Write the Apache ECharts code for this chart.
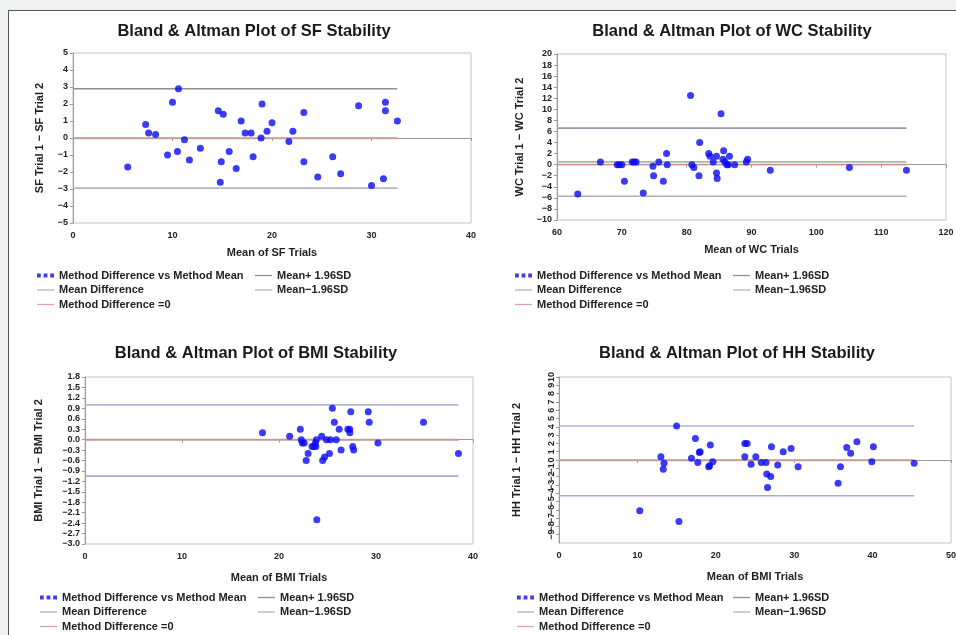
<!DOCTYPE html>
<html>
<head>
<meta charset="utf-8">
<title>Bland &amp; Altman Plots</title>
<script src="https://cdn.jsdelivr.net/npm/echarts@6/dist/echarts.min.js"></script>
<style>
  html, body { margin: 0; padding: 0; background: #eef0f2; overflow: hidden; }
  #frame { position: absolute; left: 8px; top: 10px; width: 960px; height: 640px; background: #fff;
           border-left: 1px solid #555; border-top: 1px solid #555; }
  #chart { position: absolute; left: 0; top: 0; width: 956px; height: 635px; }
</style>
</head>
<body>
<div id="frame"></div>
<div id="chart"></div>
<script>
// SF
var sfMean = [5.5, 7.3, 7.6, 8.3, 9.5, 10.0, 10.5, 10.6, 11.2, 11.7, 12.8, 14.6, 14.8, 14.9, 15.1, 15.7, 16.4, 16.9, 17.3, 17.9,
              18.1, 18.9, 19.0, 19.5, 20.0, 21.7, 22.1, 23.2, 23.2, 24.6, 26.1, 26.9, 28.7, 30.0, 31.2, 31.4, 31.4, 32.6];
var sfDiff = [-1.7, 0.8, 0.3, 0.2, -1.0, 2.1, -0.8, 2.9, -0.1, -1.3, -0.6, 1.6, -2.6, -1.4, 1.4, -0.8, -1.8, 1.0, 0.3, 0.3,
              -1.1, 0.0, 2.0, 0.4, 0.9, -0.2, 0.4, 1.5, -1.4, -2.3, -1.1, -2.1, 1.9, -2.8, -2.4, 2.1, 1.6, 1.0];
var sfLimits = [-0.02, 2.9, -2.95];   // mean difference, mean+1.96SD, mean-1.96SD

// WC
var wcMean = [63.2, 66.7, 69.3, 69.6, 70.0, 70.4, 71.6, 71.9, 72.2, 73.3, 74.8, 74.9, 75.7, 76.4, 76.9, 77.0, 80.6, 80.8, 81.1, 81.9,
              82.0, 83.4, 83.6, 84.1, 84.6, 84.6, 84.7, 85.3, 85.6, 85.7, 85.9, 86.2, 86.4, 86.6, 87.4, 89.2, 89.4, 92.9, 105.1, 113.9];
var wcDiff = [-5.3, 0.5, 0, 0, 0, -3.0, 0.5, 0.5, 0.5, -5.1, -0.3, -2.0, 0.5, -3.0, 2.0, 0, 12.5, 0, -0.5, -2.0,
              4.0, 2.0, 1.5, 0.5, 1.5, -1.5, -2.5, 9.2, 1.0, 2.5, 0.5, 0, 0, 1.5, 0, 0.5, 1.0, -1.0, -0.5, -1.0];
var wcLimits = [0.5, 6.6, -5.7];

// BMI
var bmiMean = [18.3, 21.1, 22.2, 22.3, 22.4, 22.6, 22.8, 23.0, 23.4, 23.6, 23.75, 23.85, 23.9, 23.8, 24.4, 24.5, 24.7, 24.9,
               25.2, 25.3, 25.5, 25.7, 25.9, 26.2, 26.4, 27.1, 27.3, 27.4, 27.3, 27.6, 27.7, 29.2, 29.3, 30.2, 34.9, 38.5];
var bmiDiff = [0.2, 0.1, 0.3, 0.0, -0.1, -0.1, -0.6, -0.4, -0.2, -0.2, -0.1, 0.0, -2.3, -0.2, 0.1, -0.6, -0.5, 0.0,
               -0.4, 0.0, 0.9, 0.5, 0.0, 0.3, -0.3, 0.3, 0.2, 0.8, 0.3, -0.2, -0.3, 0.8, 0.5, -0.1, 0.5, -0.4];
var bmiLimits = [-0.01, 1.0, -1.05];

// HH
var hhMean = [10.3, 13.0, 13.4, 13.3, 15.0, 15.3, 16.9, 17.4, 17.7, 17.9, 18.0, 19.1, 19.3, 19.2, 19.6, 23.7, 23.7, 24.0, 24.5,
              25.1, 25.8, 26.4, 26.5, 26.6, 27.0, 27.1, 27.9, 28.6, 29.6, 30.5, 35.6, 35.9, 36.7, 37.2, 38.0, 39.9, 40.1, 45.3];
var hhDiff = [-6.1, 0.4, -0.4, -1.1, 4.1, -7.4, 0.2, 2.6, -0.3, 0.9, 1.0, -0.8, 1.8, -0.7, -0.2, 0.4, 2.0, 2.0, -0.5,
              0.4, -0.3, -0.3, -1.7, -3.3, -2.0, 1.6, -0.6, 1.0, 1.4, -0.8, -2.8, -0.8, 1.5, 0.8, 2.2, -0.2, 1.6, -0.4];
var hhLimits = [-0.05, 4.1, -4.3];

var NAME_PTS = 'Method Difference vs Method Mean';
var NAME_MD = 'Mean Difference';
var NAME_ZERO = 'Method Difference =0';
var NAME_UP = 'Mean+ 1.96SD';
var NAME_LO = 'Mean\u22121.96SD';

var panels = [
  { title: 'Bland & Altman Plot of SF Stability', xName: 'Mean of SF Trials', yName: 'SF Trial 1 \u2212 SF Trial 2',
    mean: sfMean, diff: sfDiff, lim: sfLimits, x: [0, 40, 10], y: [-5, 5, 1], dec: 0,
    grid: { left: 73, top: 53, width: 398, height: 170 }, titleX: 249, titleY: 18, xGap: 24, yGap: 28,
    leg1: [37, 269], leg2: [255, 269], upColor: '#8e8e9c', loColor: '#b4b4c6' },
  { title: 'Bland & Altman Plot of WC Stability', xName: 'Mean of WC Trials', yName: 'WC Trial 1 \u2212 WC Trial 2',
    mean: wcMean, diff: wcDiff, lim: wcLimits, x: [60, 120, 10], y: [-10, 20, 2], dec: 0,
    grid: { left: 557, top: 54, width: 389, height: 166 }, titleX: 727, titleY: 18, xGap: 24, yGap: 32,
    leg1: [515, 269], leg2: [733, 269], upColor: '#9898a8', loColor: '#b0b0bc' },
  { title: 'Bland & Altman Plot of BMI Stability', xName: 'Mean of BMI Trials', yName: 'BMI Trial 1 \u2212 BMI Trial 2',
    mean: bmiMean, diff: bmiDiff, lim: bmiLimits, x: [0, 40, 10], y: [-3, 1.8, 0.3], dec: 1,
    grid: { left: 85, top: 377, width: 388, height: 167 }, titleX: 251, titleY: 340, xGap: 28, yGap: 41,
    leg1: [40, 591], leg2: [258, 591], upColor: '#b4b4d8', loColor: '#a8a8d4' },
  { title: 'Bland & Altman Plot of HH Stability', xName: 'Mean of BMI Trials', yName: 'HH Trial 1 \u2212 HH Trial 2',
    mean: hhMean, diff: hhDiff, lim: hhLimits, x: [0, 50, 10], y: [-10, 10, 1], dec: 0, rotY: true,
    grid: { left: 559, top: 377, width: 392, height: 166 }, titleX: 732, titleY: 340, xGap: 28, yGap: 37,
    leg1: [517, 591], leg2: [733, 591], upColor: '#b0b0dc', loColor: '#a8a8d8' }
];

var FONT = 'Liberation Sans, Arial, sans-serif';
var labelFont = { color: '#222', fontSize: 9, fontWeight: 'bold', fontFamily: FONT };
var nameFont = { color: '#222', fontSize: 11, fontWeight: 'bold', fontFamily: FONT };
var legText = { color: '#222', fontSize: 11, fontWeight: 'bold', lineHeight: 13, fontFamily: FONT };
var dotsIcon = 'path://M0,0h4v4h-4z M7,0h4v4h-4z M14,0h4v4h-4z';
var ROW = 14.5;

var option = { animation: false, title: [], grid: [], xAxis: [], yAxis: [], legend: [], series: [] };

function makeLegend(left, top, names, icon, h) {
  return {
    left: left, top: top, orient: 'vertical', itemGap: ROW - 13, itemWidth: 17, itemHeight: h,
    padding: 0, selectedMode: false, textStyle: legText, icon: icon,
    data: names
  };
}

panels.forEach(function (p, i) {
  var xMax = Math.max.apply(null, p.mean);
  option.grid.push(Object.assign({ show: true, borderColor: '#c4c4c4', borderWidth: 1, backgroundColor: 'transparent', outerBoundsMode: 'none' }, p.grid));

  option.title.push({
    text: p.title, left: p.titleX, top: p.titleY, textAlign: 'center',
    textStyle: { fontSize: 16.5, fontWeight: 'bold', color: '#1a1a1a', fontFamily: FONT }
  });

  option.xAxis.push({
    gridIndex: i, type: 'value', min: p.x[0], max: p.x[1], interval: p.x[2],
    name: p.xName, nameLocation: 'middle', nameGap: p.xGap, nameTextStyle: nameFont,
    splitLine: { show: false },
    axisLine: { lineStyle: { color: '#9a9a9a' } },
    axisTick: { length: 3, lineStyle: { color: '#9a9a9a' } },
    axisLabel: Object.assign({ margin: 8 }, labelFont)
  });

  var yLabel = Object.assign({
    margin: 5,
    formatter: function (v) { return v.toFixed(p.dec).replace('-', '\u2212'); }
  }, labelFont);
  if (p.rotY) {
    yLabel.rotate = 90;
    yLabel.interval = 0;
    yLabel.fontSize = 9;
    yLabel.margin = 3;
  }
  option.yAxis.push({
    gridIndex: i, type: 'value', min: p.y[0], max: p.y[1], interval: p.y[2],
    name: p.yName, nameLocation: 'middle', nameGap: p.yGap, nameTextStyle: nameFont,
    splitLine: { show: false },
    axisLine: { show: true, lineStyle: { color: '#9a9a9a' } },
    axisTick: { show: true, length: 3, lineStyle: { color: '#9a9a9a' } },
    axisLabel: yLabel
  });

  var refLine = function (name, v, color, z) {
    return {
      name: name, type: 'line', xAxisIndex: i, yAxisIndex: i, symbol: 'none', silent: true, z: z,
      lineStyle: { color: color, width: 1.6 }, itemStyle: { color: color },
      data: [[p.x[0], v], [xMax, v]]
    };
  };
  option.series.push(refLine(NAME_MD, p.lim[0], '#a6bca6', 2));
  option.series.push(refLine(NAME_ZERO, 0, 'rgba(214,140,140,0.8)', 3));
  option.series.push(refLine(NAME_UP, p.lim[1], p.upColor, 2));
  option.series.push(refLine(NAME_LO, p.lim[2], p.loColor, 2));

  option.series.push({
    name: NAME_PTS, type: 'scatter', xAxisIndex: i, yAxisIndex: i, z: 5,
    symbolSize: 7, itemStyle: { color: '#0a0af2' },
    data: p.mean.map(function (m, k) { return [m, p.diff[k]]; })
  });

  // legend: dotted marker row, then two line rows, plus a second column
  option.legend.push(makeLegend(p.leg1[0], p.leg1[1], [NAME_PTS], dotsIcon, 4));
  option.legend.push(makeLegend(p.leg1[0], p.leg1[1] + ROW, [NAME_MD, NAME_ZERO], 'rect', 1.3));
  option.legend.push(makeLegend(p.leg2[0], p.leg2[1], [NAME_UP, NAME_LO], 'rect', 1.3));
});

var myChart = echarts.init(document.getElementById('chart'), null, { renderer: 'canvas' });
myChart.setOption(option);
</script>
</body>
</html>
